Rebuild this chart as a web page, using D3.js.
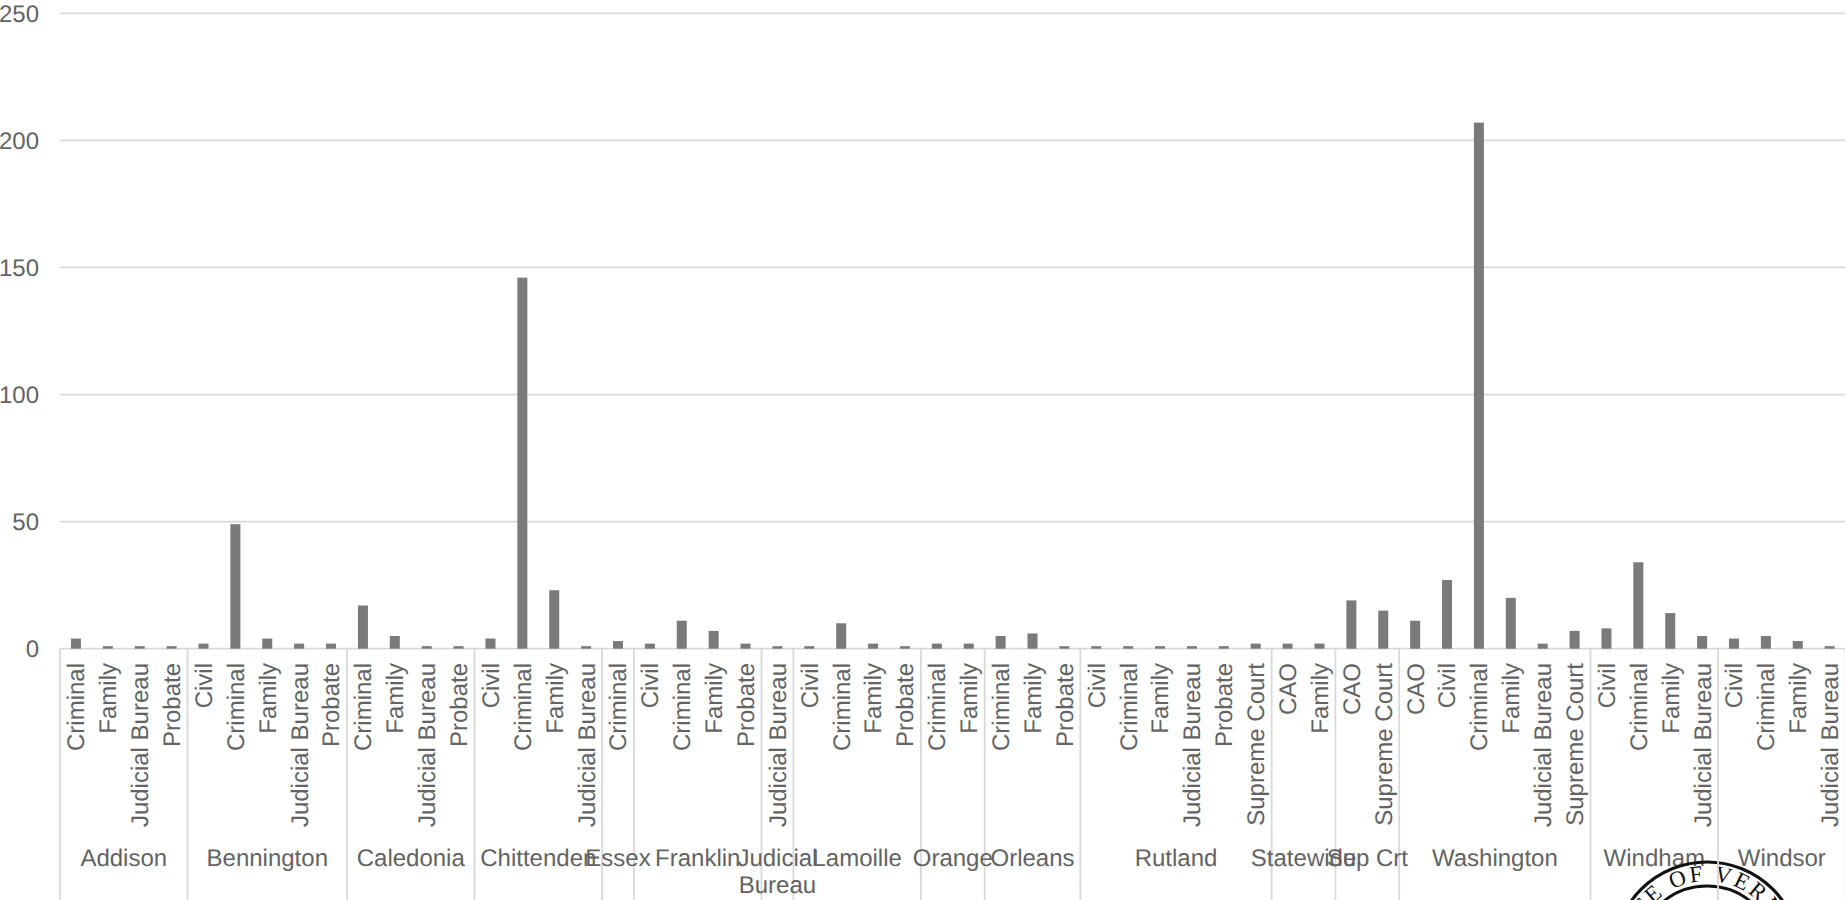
<!DOCTYPE html>
<html>
<head>
<meta charset="utf-8">
<script src="https://cdn.jsdelivr.net/npm/d3@7/dist/d3.min.js"></script>
<style>
html,body{margin:0;padding:0;background:#fff;overflow:hidden;}
svg{display:block;}
text{font-family:"Liberation Sans",Arial,sans-serif;fill:#636363;text-rendering:geometricPrecision;}
</style>
</head>
<body>
<svg id="chart" width="1845" height="900"></svg>
<script>
const yTicks = [0, 50, 100, 150, 200, 250];
const groupNames = ["Addison","Bennington","Caledonia","Chittenden","Essex","Franklin","Judicial Bureau","Lamoille","Orange","Orleans","Rutland","Statewide","Sup Crt","Washington","Windham","Windsor"];
const groupCourts = [
  ["Criminal","Family","Judicial Bureau","Probate"],
  ["Civil","Criminal","Family","Judicial Bureau","Probate"],
  ["Criminal","Family","Judicial Bureau","Probate"],
  ["Civil","Criminal","Family","Judicial Bureau"],
  ["Criminal"],
  ["Civil","Criminal","Family","Probate"],
  ["Judicial Bureau"],
  ["Civil","Criminal","Family","Probate"],
  ["Criminal","Family"],
  ["Criminal","Family","Probate"],
  ["Civil","Criminal","Family","Judicial Bureau","Probate","Supreme Court"],
  ["CAO","Family"],
  ["CAO","Supreme Court"],
  ["CAO","Civil","Criminal","Family","Judicial Bureau","Supreme Court"],
  ["Civil","Criminal","Family","Judicial Bureau"],
  ["Civil","Criminal","Family","Judicial Bureau"]
];
const groupValues = [
  [4,1,1,1],
  [2,49,4,2,2],
  [17,5,1,1],
  [4,146,23,1],
  [3],
  [2,11,7,2],
  [1],
  [1,10,2,1],
  [2,2],
  [5,6,1],
  [1,1,1,1,1,2],
  [2,2],
  [19,15],
  [11,27,207,20,2,7],
  [8,34,14,5],
  [4,5,3,1]
];
const sealText = "STATE OF VERMONT";

const left = 60, right = 1845.6, y0 = 648.7, y250 = 13.3, bottom = 900;
const grid = "#d9d9d9";
const svg = d3.select("#chart");

const rows = [];
groupNames.forEach((g, i) => groupCourts[i].forEach((c, j) =>
  rows.push({key: i + "-" + j, group: g, court: c, value: groupValues[i][j]})));

const x = d3.scaleBand().domain(rows.map(d => d.key)).range([left, right]).paddingInner(0.686).paddingOuter(0.343);
const y = d3.scaleLinear().domain([0, 250]).range([y0, y250]);
const edge = d3.scaleLinear().domain([0, rows.length]).range([left, right]);

// gridlines and y labels
svg.append("g").selectAll("line").data(yTicks).join("line")
  .attr("x1", left).attr("x2", 1845).attr("y1", d => y(d)).attr("y2", d => y(d))
  .attr("stroke", grid).attr("stroke-width", 1.8);
svg.append("g").selectAll("text").data(yTicks).join("text")
  .attr("x", 39).attr("y", d => y(d)).attr("dy", "0.35em").attr("text-anchor", "end")
  .attr("font-size", 24).text(d => d);

// group separators
const starts = [];
let n = 0;
groupCourts.forEach(c => { starts.push(n); n += c.length; });
svg.append("g").selectAll("line").data(starts.concat([n])).join("line")
  .attr("x1", d => edge(d)).attr("x2", d => edge(d)).attr("y1", y0).attr("y2", bottom)
  .attr("stroke", grid).attr("stroke-width", 1.8);

// bars
svg.append("g").selectAll("rect").data(rows).join("rect")
  .attr("x", d => x(d.key)).attr("width", x.bandwidth())
  .attr("y", d => y(d.value)).attr("height", d => y0 - y(d.value))
  .attr("fill", "#7a7a7a");

// court labels
svg.append("g").selectAll("text").data(rows).join("text")
  .attr("transform", d => `translate(${x(d.key) + x.bandwidth() / 2},663) rotate(-90)`)
  .attr("dy", "0.35em").attr("text-anchor", "end").attr("font-size", 24).text(d => d.court);

// group labels
const gl = svg.append("g").selectAll("text").data(groupNames).join("text")
  .attr("text-anchor", "middle").attr("font-size", 24)
  .attr("transform", (d, i) => `translate(${edge(starts[i] + groupCourts[i].length / 2)},866)`);
gl.each(function(d) {
  const el = d3.select(this);
  const words = d === "Judicial Bureau" ? d.split(" ") : [d];
  words.forEach((w, k) => el.append("tspan").attr("x", 0).attr("y", k * 27).text(w));
});

// seal
const cx = 1707, cy = 955;
const seal = svg.append("g");
seal.append("circle").attr("cx", cx).attr("cy", cy).attr("r", 93).attr("fill", "none").attr("stroke", "#111").attr("stroke-width", 3.2);
seal.append("circle").attr("cx", cx).attr("cy", cy).attr("r", 69).attr("fill", "none").attr("stroke", "#111").attr("stroke-width", 2.8);
seal.append("defs").append("path").attr("id", "sealArc")
  .attr("d", `M ${cx - 74} ${cy} A 74 74 0 0 1 ${cx + 74} ${cy}`);
seal.append("text").attr("font-size", 23).attr("letter-spacing", 2.5)
  .style("font-family", '"Liberation Serif",serif').style("fill", "#111")
  .append("textPath").attr("href", "#sealArc").attr("startOffset", "53%").attr("text-anchor", "middle").text(sealText);
// separator runs over the seal
seal.append("line").attr("x1", edge(starts[15])).attr("x2", edge(starts[15])).attr("y1", 855).attr("y2", bottom)
  .attr("stroke", grid).attr("stroke-width", 1.8);
</script>
</body>
</html>
